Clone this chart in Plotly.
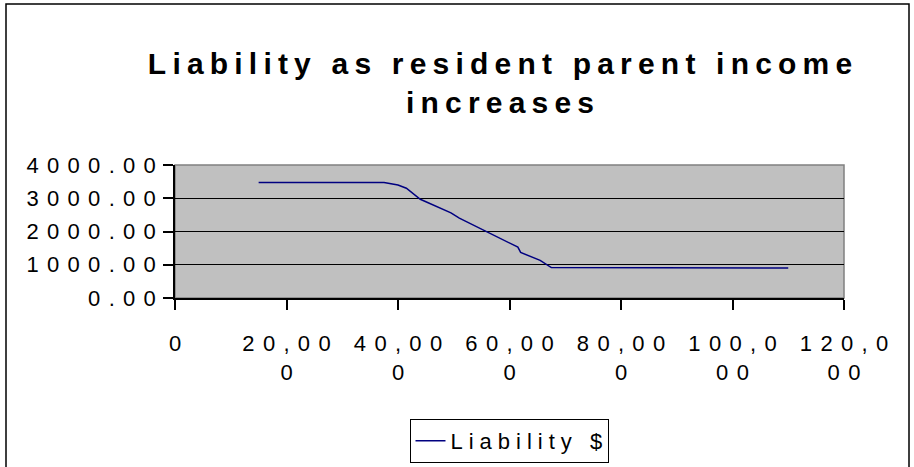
import plotly.graph_objects as go

# Data
income = [15000, 37500, 40000, 41500, 44000, 49500, 51000, 55000, 56000, 61500, 62000, 65500, 67500, 110000]
liability = [3470, 3470, 3400, 3300, 2970, 2560, 2400, 2070, 1970, 1530, 1370, 1130, 915, 900]
x_tickvals = [0, 20000, 40000, 60000, 80000, 100000, 120000]
x_ticklines = [["0"], ["20,00", "0"], ["40,00", "0"], ["60,00", "0"], ["80,00", "0"], ["100,0", "00"], ["120,0", "00"]]
y_tickvals = [0, 1000, 2000, 3000, 4000]
y_ticklabels = ["0.00", "1000.00", "2000.00", "3000.00", "4000.00"]
title_lines = ["Liability as resident parent income", "increases"]
series_name = "Liability $"

W, H = 914, 467
ML, MR, MT, MB = 175, W - 844, 165, H - 298
PW, PH = W - ML - MR, H - MT - MB

def px_x(p):
    return (p - ML) / PW

def px_y(p):
    return (H - MB - p) / PH

def spaced(s, sp):
    # letter-spaced text, without extra space after the last character
    if len(s) < 2:
        return s
    return '<span style="letter-spacing:%.1fpx">%s</span>%s' % (sp, s[:-1], s[-1])

FONT = "Liberation Sans, Arial, sans-serif"
TICK_FS = 22
TICK_SP = 8.3

fig = go.Figure()
fig.add_trace(go.Scatter(
    x=income, y=liability, mode="lines", name=spaced(series_name, 6),
    line=dict(color="#000080", width=1.5),
))

fig.update_layout(
    width=W, height=H,
    margin=dict(l=ML, r=MR, t=MT, b=MB, autoexpand=False),
    paper_bgcolor="white",
    plot_bgcolor="#C0C0C0",
    font=dict(family=FONT, color="black", size=TICK_FS),
    title=dict(
        text="<br>".join(spaced(t, 6.2) for t in title_lines),
        x=500 / W, xref="container", xanchor="center",
        y=1 - 74 / H, yref="container", yanchor="middle",
        font=dict(family=FONT, size=30, color="black", weight="bold"),
    ),
    showlegend=True,
    legend=dict(
        orientation="h", x=px_x(509), xanchor="center", y=px_y(419), yanchor="top",
        bordercolor="black", borderwidth=1, bgcolor="white",
        font=dict(family=FONT, size=TICK_FS, color="black"),
        itemwidth=30,
    ),
    xaxis=dict(
        range=[0, 120000], tickvals=x_tickvals,
        ticktext=["<br>".join(spaced(s, TICK_SP) for s in lines) for lines in x_ticklines],
        showgrid=False, zeroline=False,
        showline=True, linecolor="black", linewidth=1.5,
        ticks="outside", ticklen=10, tickcolor="black", tickwidth=1.5,
        tickfont=dict(family=FONT, size=TICK_FS), ticklabelstandoff=15,
    ),
    yaxis=dict(
        range=[0, 4000], tickvals=y_tickvals,
        ticktext=[spaced(s, TICK_SP) for s in y_ticklabels],
        showgrid=True, gridcolor="black", gridwidth=1.2,
        zeroline=False,
        showline=True, linecolor="black", linewidth=1.5,
        ticks="outside", ticklen=10, tickcolor="black", tickwidth=1.5,
        tickfont=dict(family=FONT, size=TICK_FS), ticklabelstandoff=3,
    ),
    shapes=[
        dict(type="rect", xref="paper", yref="paper", x0=0, x1=1, y0=0, y1=1,
             line=dict(color="#808080", width=1.5), fillcolor="rgba(0,0,0,0)", layer="below"),
        dict(type="rect", xref="paper", yref="paper",
             x0=px_x(6), x1=px_x(909), y0=px_y(480), y1=px_y(4),
             line=dict(color="black", width=1.5), fillcolor="rgba(0,0,0,0)"),
    ],
)

fig.write_html("out.html", config={"displayModeBar": False},
               post_script="document.body.style.margin='0px';")
